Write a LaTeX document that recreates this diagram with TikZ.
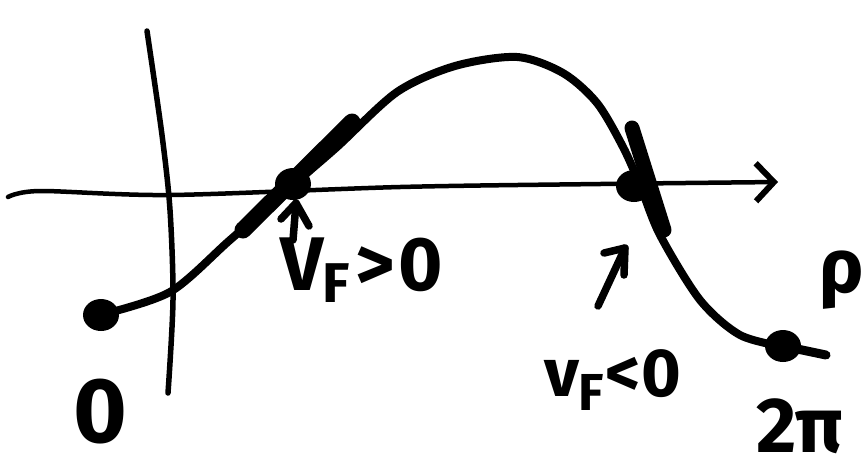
\documentclass[tikz,border=0pt]{standalone}
\usepackage{fontspec}
\setmainfont{Fira Sans}
\usetikzlibrary{arrows.meta,shapes.geometric}
\tikzset{
  ax/.style={line width=4.5pt,line cap=round},
  crv/.style={line width=8pt,line cap=round,line join=round},
  tang/.style={line width=17pt,line cap=round},
  dot/.style={ellipse,fill=black,minimum width=36pt,minimum height=32pt,inner sep=0pt},
  pointer/.style={line width=7.5pt,line cap=round,line join=round},
  hand/.style={font=\bfseries\fontsize{#1}{#1}\selectfont,inner sep=0pt}}
\begin{document}
\begin{tikzpicture}[x=1pt,y=-1pt]
\useasboundingbox (0,0) rectangle (865,475);
% axes
\draw[ax,arrows={-Straight Barb[length=18pt,width=38pt,line width=6pt]}] plot[smooth] coordinates {(8,197) (40,191) (170,195) (400,187) (600,184) (778,182)};
\draw[ax,line width=5.5pt] plot[smooth] coordinates {(147,31) (162,135) (170,210) (173,300) (168,393)};
% curve
\draw[crv] plot[smooth] coordinates {(100,315) (170,292) (230,240) (293,185) (337,147) (397,92) (455,66) (517,57) (563,73) (597,103) (623,147) (640,185) (660,235) (700,300) (740,335) (785,347)};
% points
\node[dot] (s) at (101,315) {};
\node[dot] (p1) at (293,184) {};
\node[dot] (p2) at (634,186) {};
\node[dot] (e) at (783,346) {};
\coordinate (tail) at (826,355);
\draw[crv,line width=9pt] (e.center) -- (tail);
% tangents
\draw[tang] (243,230) -- (352,122);
\draw[tang,line width=15pt] (632,128) -- (664,230);
% pointers (stem plus two arms)
\coordinate (a1) at (293,240);
\coordinate (h1) at (296,203);
\coordinate (a2) at (598,306);
\coordinate (h2) at (625,248);
\draw[pointer] (a1) -- (h1);
\draw[pointer] (281,219) -- (h1) -- (309,226);
\draw[pointer] (a2) -- (h2);
\draw[pointer] (604,253) -- (h2) -- (624,275);
% labels
\node[hand=92] (l0) at (100,412) {0};
\node[hand=76] (vp) at (362,270) {V\kern-2pt\raisebox{-12pt}{\fontsize{56}{56}\selectfont F}\kern6pt>\kern4pt0};
\node[hand=68] (vn) at (613,380) {v\kern-1pt\raisebox{-14pt}{\fontsize{52}{52}\selectfont F}\kern2pt<\kern1pt0};
\node[hand=76] (rho) at (842,280) {ρ};
\node[hand=78] (tp) at (800,426) {2π};
\end{tikzpicture}
\end{document}
